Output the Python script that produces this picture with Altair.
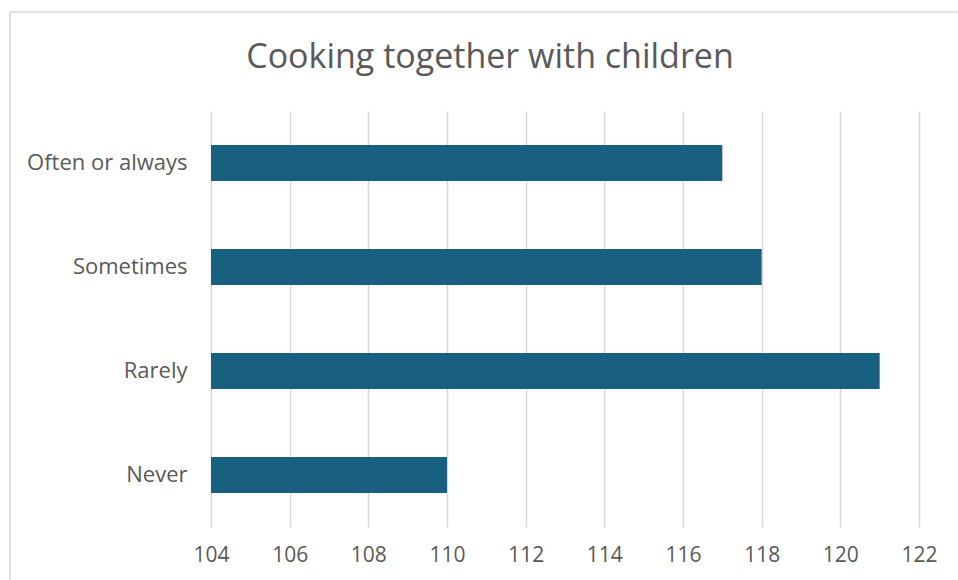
import altair as alt
import pandas as pd

title_text = "Cooking together with children"
categories = ["Often or always", "Sometimes", "Rarely", "Never"]
values = [117, 118, 121, 110]
x_ticks = [104, 106, 108, 110, 112, 114, 116, 118, 120, 122]
base_value = 104

df = pd.DataFrame({"cat": categories, "val": values, "base": [base_value] * len(categories)})

TEXT = "#595959"
GRID = "#d9d9d9"
BAR = "#185f80"

bars = alt.Chart(df).mark_bar(color=BAR).encode(
    y=alt.Y("cat:N", sort=categories, title=None,
            scale=alt.Scale(paddingInner=0.654, paddingOuter=0.327),
            axis=alt.Axis(labelFont="Open Sans", labelFontSize=22, labelColor=TEXT,
                          labelPadding=24, ticks=False, domain=False, grid=False)),
    x=alt.X("val:Q", title=None,
            scale=alt.Scale(domain=[104, 122], zero=False, nice=False),
            axis=alt.Axis(values=x_ticks, labelFont="Open Sans", labelFontSize=21,
                          labelColor=TEXT, labelPadding=17, labelFlush=False,
                          ticks=False, domain=False,
                          grid=True, gridColor=GRID, gridWidth=1.5)),
    x2="base:Q",
)

single = pd.DataFrame({"t": [title_text]})

border = alt.Chart(single).mark_rect(
    fill=None, stroke=GRID, strokeWidth=1.5
).encode(
    x=alt.value(-201), x2=alt.value(760), y=alt.value(-99), y2=alt.value(480)
)

title = alt.Chart(single).mark_text(
    font="Open Sans", fontSize=34, color=TEXT, align="center", baseline="alphabetic"
).encode(
    text="t:N", x=alt.value(279), y=alt.value(-43)
)

chart = alt.layer(border, bars, title).properties(
    width=708, height=416,
    padding={"left": 211, "top": 111, "right": 39, "bottom": 53},
    autosize=alt.AutoSizeParams(type="none"),
).configure(background="white").configure_view(stroke=None)

chart.save("out.html", embed_options={"renderer": "svg", "actions": False})
